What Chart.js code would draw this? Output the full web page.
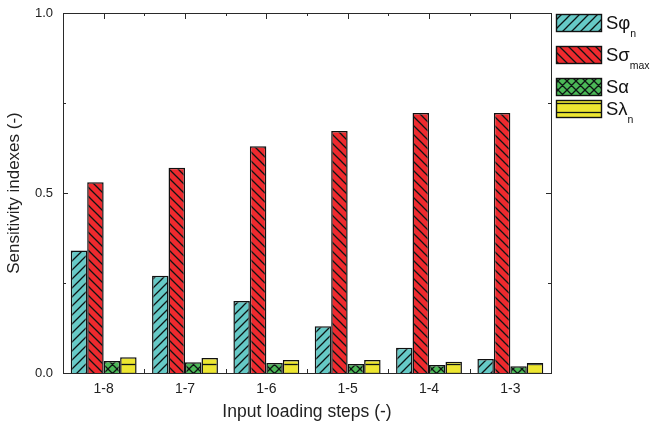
<!DOCTYPE html>
<html>
<head>
<meta charset="utf-8">
<script src="https://cdn.jsdelivr.net/npm/chart.js@4.4.1/dist/chart.umd.min.js"></script>
<style>
  html, body { margin: 0; padding: 0; background: #fff; }
  canvas { display: block; }
</style>
</head>
<body>
<canvas id="chart" width="651" height="430"></canvas>
<script>
const steps = ["1-8", "1-7", "1-6", "1-5", "1-4", "1-3"];
const sPhi = [0.34, 0.27, 0.20, 0.13, 0.07, 0.039];
const sSigma = [0.53, 0.57, 0.63, 0.672, 0.722, 0.722];
const sAlpha = [0.033, 0.030, 0.028, 0.025, 0.022, 0.019];
const sLambda = [0.044, 0.042, 0.036, 0.036, 0.031, 0.028];
const legendMain = ["S\u03C6", "S\u03C3", "S\u03B1", "S\u03BB"];
const legendSub = ["n", "max", "", "n"];
const xTitle = "Input loading steps (-)";

const FONT = "'Liberation Sans', Arial, sans-serif";
const EDGE = "#111";

// hatch fills
function hatch(bg, kind) {
  const p = 9;
  const c = document.createElement("canvas");
  c.width = p; c.height = p;
  const g = c.getContext("2d");
  g.fillStyle = bg;
  g.fillRect(0, 0, p, p);
  g.strokeStyle = "#0d1414";
  g.lineWidth = 1.3;
  g.beginPath();
  if (kind === "fwd" || kind === "cross") {
    g.moveTo(-1, p + 1); g.lineTo(p + 1, -1);
    g.moveTo(-1, 1); g.lineTo(1, -1);
    g.moveTo(p - 1, p + 1); g.lineTo(p + 1, p - 1);
  }
  if (kind === "back" || kind === "cross") {
    g.moveTo(-1, -1); g.lineTo(p + 1, p + 1);
    g.moveTo(p - 1, -1); g.lineTo(p + 1, 1);
    g.moveTo(-1, p - 1); g.lineTo(1, p + 1);
  }
  if (kind === "horiz") {
    g.moveTo(0, 4.5); g.lineTo(p, 4.5);
  }
  g.stroke();
  return g.createPattern(c, "repeat");
}

const fills = [
  hatch("#66C9C6", "fwd"),
  hatch("#EE2A2E", "back"),
  hatch("#4CB957", "cross"),
  hatch("#EDE631", "horiz"),
];

// frame, inward ticks, x title and legend with subscripts
const framePlugin = {
  id: "frame",
  afterDraw(chart) {
    const { ctx, chartArea: a, scales } = chart;
    const y = scales.y, x = scales.x;
    ctx.save();
    ctx.strokeStyle = "#2a2a2a";
    ctx.lineWidth = 1;
    ctx.strokeRect(a.left + 0.5, a.top + 0.5, a.right - a.left, a.bottom - a.top);
    ctx.beginPath();
    [0.25, 0.5, 0.75].forEach(v => {
      const py = Math.round(y.getPixelForValue(v)) + 0.5;
      const len = v === 0.5 ? 5 : 3;
      ctx.moveTo(a.left, py); ctx.lineTo(a.left + len, py);
      ctx.moveTo(a.right, py); ctx.lineTo(a.right - len, py);
    });
    const half = (x.getPixelForValue(1) - x.getPixelForValue(0)) / 2;
    steps.forEach((s, i) => {
      const pc = Math.round(x.getPixelForValue(i)) + 0.5;
      ctx.moveTo(pc, a.top); ctx.lineTo(pc, a.top + 6);
      if (i === 0) return;
      const pb = Math.round(x.getPixelForValue(i) - half) + 0.5;
      ctx.moveTo(pb, a.bottom); ctx.lineTo(pb, a.bottom - 4);
      ctx.moveTo(pb, a.top); ctx.lineTo(pb, a.top + 3);
    });
    ctx.stroke();

    ctx.fillStyle = "#222";
    ctx.textAlign = "center";
    ctx.textBaseline = "middle";
    ctx.font = "17.5px " + FONT;
    ctx.fillText(xTitle, (a.left + a.right) / 2, 412);

    // legend
    const rows = [14, 46, 78, 100];
    const bx = 556, bw = 45, bh = 17;
    chart.data.datasets.forEach((ds, i) => {
      const ty = rows[i];
      ctx.fillStyle = ds.backgroundColor;
      ctx.fillRect(bx, ty, bw, bh);
      ctx.strokeStyle = EDGE;
      ctx.lineWidth = 1.4;
      ctx.strokeRect(bx + 0.5, ty + 0.5, bw, bh);
      ctx.fillStyle = "#111";
      ctx.textBaseline = "alphabetic";
      ctx.textAlign = "left";
      ctx.font = "18.5px " + FONT;
      ctx.fillText(legendMain[i], 606, ty + 15);
      const w = ctx.measureText(legendMain[i]).width;
      if (legendSub[i]) {
        ctx.font = "10.5px " + FONT;
        ctx.fillText(legendSub[i], 606 + w, ty + 23);
      }
    });
    ctx.restore();
  }
};

const seriesValues = [sPhi, sSigma, sAlpha, sLambda];

new Chart(document.getElementById("chart"), {
  type: "bar",
  data: {
    labels: steps,
    datasets: seriesValues.map((vals, i) => ({
      label: legendMain[i] + legendSub[i],
      data: vals,
      backgroundColor: fills[i],
      borderColor: EDGE,
      borderWidth: 1.5,
      categoryPercentage: 0.81,
      barPercentage: 1.0,
    })),
  },
  options: {
    responsive: false,
    animation: false,
    devicePixelRatio: 1,
    layout: { padding: { top: 13, right: 100, left: 0, bottom: 0 } },
    plugins: {
      legend: { display: false },
      tooltip: { enabled: false },
    },
    scales: {
      x: {
        grid: { display: false, drawTicks: false },
        border: { display: false },
        ticks: { color: "#222", font: { family: FONT, size: 14 }, padding: 8 },
        afterFit(s) { s.height = 57; s.paddingLeft = 0; s.paddingRight = 0; },
      },
      y: {
        min: 0,
        max: 1,
        grid: { display: false, drawTicks: false },
        border: { display: false },
        ticks: {
          stepSize: 0.5,
          color: "#222",
          font: { family: FONT, size: 13 },
          padding: 10,
          callback: v => v.toFixed(1),
        },
        title: {
          display: true,
          text: "Sensitivity indexes (-)",
          color: "#222",
          font: { family: FONT, size: 17 },
          padding: { top: 4, bottom: 0 },
        },
        afterFit(s) { s.width = 63; s.paddingTop = 0; s.paddingBottom = 0; },
      },
    },
  },
  plugins: [framePlugin],
});
</script>
</body>
</html>
